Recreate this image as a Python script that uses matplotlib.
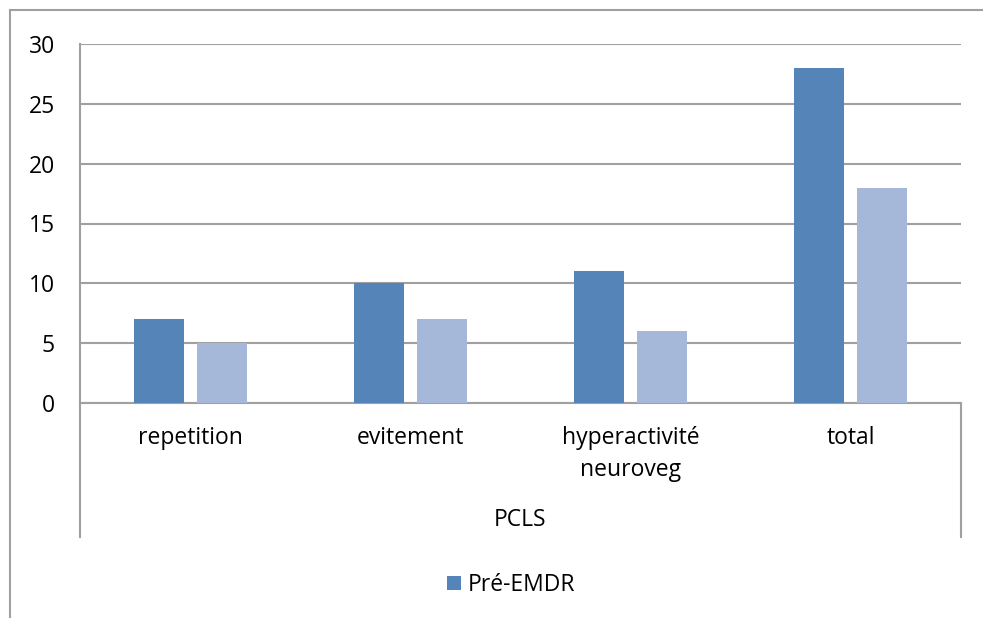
import matplotlib
matplotlib.use("Agg")
import matplotlib.pyplot as plt
from matplotlib.lines import Line2D
import numpy as np

categories = ["repetition", "evitement", "hyperactivité\nneuroveg", "total"]
pre_emdr = [7, 10, 11, 28]
post_emdr = [5, 7, 6, 18]
yticks = [0, 5, 10, 15, 20, 25, 30]
outer_label = "PCLS"
legend_label = "Pré-EMDR"

plt.rcParams['font.family'] = ['Open Sans', 'DejaVu Sans']
FS = 16.5

W, H = 983, 618
fig = plt.figure(figsize=(W / 100, H / 100), dpi=100)
ax = fig.add_axes([80 / W, 1 - 403 / H, (961 - 80) / W, (403 - 44) / H])

x = np.arange(len(categories))
bw = 0.227
off = 0.143
dark = "#5585B8"
light = "#A5B8D9"
ax.bar(x - off, pre_emdr, bw, color=dark, label=legend_label, zorder=3)
ax.bar(x + off, post_emdr, bw, color=light, zorder=3)

ax.set_xlim(-0.5, len(categories) - 0.5)
ax.set_ylim(0, 30)
ax.set_yticks(yticks)
ax.set_yticklabels([str(v) for v in yticks], fontsize=FS)
ax.tick_params(axis='y', length=0, pad=18)
ax.yaxis.grid(True, color="#A0A0A0", linewidth=1.5, zorder=0)
ax.set_xticks([])

for s in ["top", "right"]:
    ax.spines[s].set_visible(False)
for s in ["left", "bottom"]:
    ax.spines[s].set_color("#A0A0A0")
    ax.spines[s].set_linewidth(1.5)

pix = 30 / (403 - 44)  # data units per pixel (vertical)
ext = -(537 - 403) / (403 - 44)
for xa in (0, 1):
    ax.plot([xa, xa], [0, ext], transform=ax.transAxes, color="#A0A0A0",
            linewidth=1.5, clip_on=False)

line_y = [438, 470]
for i, c in enumerate(categories):
    for j, part in enumerate(c.split("\n")):
        ax.text(i, -(line_y[j] - 403) * pix, part, ha="center", va="center",
                fontsize=FS, clip_on=False)

ax.text(0.5, -(520 - 403) / (403 - 44), outer_label, transform=ax.transAxes,
        ha="center", va="center", fontsize=FS)

fig.legend(loc="center", bbox_to_anchor=(511 / W, 1 - 585 / H), frameon=False,
           fontsize=FS, handlelength=0.6, handleheight=0.6, handletextpad=0.3)

# chart border
fig.add_artist(Line2D([10 / W, 1], [1 - 10 / H, 1 - 10 / H], color="#A0A0A0", linewidth=1.5))
fig.add_artist(Line2D([10 / W, 10 / W], [1 - 10 / H, 0], color="#A0A0A0", linewidth=1.5))

fig.savefig("out.png", dpi=100)
